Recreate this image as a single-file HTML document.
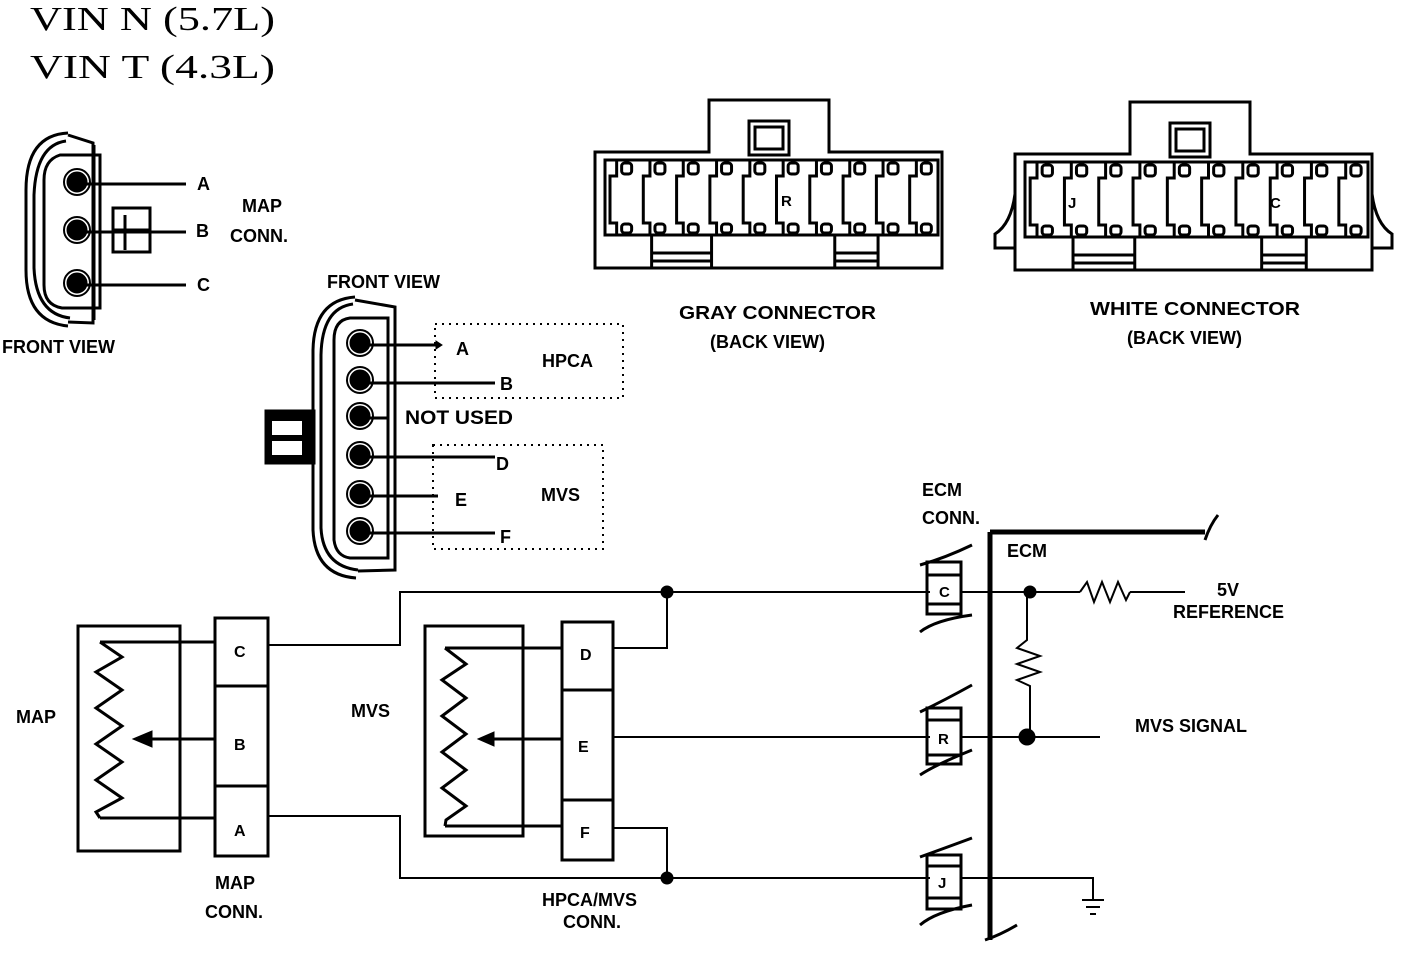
<!DOCTYPE html>
<html><head><meta charset="utf-8"><style>
body{margin:0;background:#fff}
svg{display:block}
text{font-family:"Liberation Sans",sans-serif;font-weight:bold;fill:#000}
.s{font-family:"Liberation Serif",serif;font-weight:normal;font-size:34px}
</style></head><body>
<svg id="sv" width="1408" height="954" viewBox="0 0 1408 954" xmlns="http://www.w3.org/2000/svg" stroke="#000" fill="none">
<text class="s" x="30" y="30" stroke="none" textLength="245" lengthAdjust="spacingAndGlyphs">VIN  N  (5.7L)</text>
<text class="s" x="30" y="78" stroke="none" textLength="245" lengthAdjust="spacingAndGlyphs">VIN  T  (4.3L)</text>

<g stroke-width="3">
<path d="M68 133 Q26 135 26 190 L26 270 Q26 322 68 326"/>
<path d="M66 141 Q36 145 34 195 L34 268 Q36 314 70 318"/>
<path d="M68 135 L93 143 L93 323 L68 322"/>
<path d="M100 155 L60 155 Q44 160 44 180 L44 285 Q44 305 62 308 L100 308 Z"/>
<path d="M93 143 L93 321 M94 145 L94 320"/>
<rect x="113" y="208" width="37" height="44"/>
<line x1="113" y1="230" x2="150" y2="230"/>
<line x1="125" y1="215" x2="125" y2="250"/>
</g>
<g fill="#000">
<circle cx="77" cy="182" r="10"/><circle cx="77" cy="230" r="10"/><circle cx="77" cy="283" r="10"/>
</g>
<g fill="none" stroke-width="2"><circle cx="77" cy="182" r="13"/><circle cx="77" cy="230" r="13"/><circle cx="77" cy="283" r="13"/></g>
<g stroke-width="3"><line x1="85" y1="184" x2="186" y2="184"/><line x1="85" y1="232" x2="186" y2="232"/><line x1="85" y1="285" x2="186" y2="285"/></g>
<g stroke="none" font-size="18">
<text x="197" y="190">A</text><text x="196" y="237">B</text><text x="197" y="291">C</text>
<text x="242" y="212">MAP</text><text x="230" y="242">CONN.</text>
<text x="2" y="353">FRONT VIEW</text>
<text x="327" y="288">FRONT VIEW</text>
</g>

<g stroke-width="3">
<path d="M355 297 Q314 300 313 350 L313 530 Q315 575 356 578"/>
<path d="M353 304 Q322 308 321 355 L321 528 Q323 566 358 570"/>
<path d="M355 300 L395 307 L395 570 L358 571"/>
<path d="M388 318 L350 318 Q334 320 334 340 L334 540 Q336 556 350 558 L388 558 Z"/>
</g>
<rect x="265" y="410" width="50" height="54" fill="#000"/>
<rect x="272" y="421" width="30" height="14" fill="#fff" stroke="none"/>
<rect x="272" y="441" width="30" height="14" fill="#fff" stroke="none"/>
<g fill="#000">
<circle cx="360" cy="343" r="10"/><circle cx="360" cy="380" r="10"/><circle cx="360" cy="416" r="10"/>
<circle cx="360" cy="455" r="10"/><circle cx="360" cy="494" r="10"/><circle cx="360" cy="531" r="10"/>
</g>
<g stroke-width="2"><circle cx="360" cy="343" r="13"/><circle cx="360" cy="380" r="13"/><circle cx="360" cy="416" r="13"/>
<circle cx="360" cy="455" r="13"/><circle cx="360" cy="494" r="13"/><circle cx="360" cy="531" r="13"/></g>
<g stroke-width="3">
<line x1="368" y1="345" x2="436" y2="345"/><line x1="368" y1="383" x2="495" y2="383"/>
<line x1="368" y1="418" x2="388" y2="418"/>
<line x1="368" y1="457" x2="495" y2="457"/><line x1="368" y1="496" x2="438" y2="496"/><line x1="368" y1="533" x2="495" y2="533"/>
</g>
<path d="M436 341 L442 345 L436 349 Z" fill="#000"/>
<g stroke-width="2" stroke-dasharray="2 5">
<rect x="435" y="324" width="188" height="74"/>
<rect x="433" y="445" width="170" height="104"/>
</g>
<g stroke="none" font-size="18">
<text x="456" y="355">A</text><text x="500" y="390">B</text><text x="542" y="367">HPCA</text>
<text x="405" y="424" font-weight="normal" font-size="19" textLength="108" lengthAdjust="spacingAndGlyphs">NOT USED</text>
<text x="496" y="470">D</text><text x="455" y="506">E</text><text x="541" y="501">MVS</text><text x="500" y="543">F</text>
</g>

<g id="conns" stroke-width="3"></g>
<g stroke="none" font-size="18">
<text x="781" y="206" font-size="15">R</text>
<text x="1068" y="208" font-size="15">J</text>
<text x="1270" y="208" font-size="15">C</text>
<text x="679" y="319" textLength="197" lengthAdjust="spacingAndGlyphs">GRAY CONNECTOR</text><text x="710" y="348">(BACK VIEW)</text>
<text x="1090" y="315" textLength="210" lengthAdjust="spacingAndGlyphs">WHITE CONNECTOR</text><text x="1127" y="344">(BACK VIEW)</text>
</g>

<g stroke-width="3">
<rect x="78" y="626" width="102" height="225"/>
<rect x="215" y="618" width="53" height="68"/><rect x="215" y="686" width="53" height="100"/><rect x="215" y="786" width="53" height="70"/>
<path d="M100 642 L215 642 M100 818 L215 818"/>
<path d="M100 642 L122 657 L96 672 L122 690 L96 708 L122 726 L96 744 L122 762 L96 780 L122 798 L96 812 L100 818"/>
<line x1="215" y1="739" x2="150" y2="739"/>
<rect x="425" y="626" width="98" height="210"/>
<rect x="562" y="622" width="51" height="68"/><rect x="562" y="690" width="51" height="110"/><rect x="562" y="800" width="51" height="60"/>
<path d="M445 648 L562 648 M445 826 L562 826"/>
<path d="M445 648 L466 664 L442 680 L466 698 L442 716 L466 734 L442 752 L466 770 L442 788 L466 806 L446 820 L445 826"/>
<line x1="562" y1="739" x2="492" y2="739"/>
</g>
<path d="M133 739 L152 731 L152 747 Z" fill="#000"/>
<path d="M478 739 L494 732 L494 746 Z" fill="#000"/>
<g stroke-width="2">
<path d="M268 645 L400 645 L400 592 L930 592"/>
<path d="M613 648 L667 648 L667 592"/>
<path d="M613 737 L930 737"/>
<path d="M613 828 L667 828 L667 878"/>
<path d="M268 816 L400 816 L400 878 L930 878"/>
<path d="M962 592 L1080 592 M1130 592 L1185 592"/>
<path d="M1080 592 L1087 582 L1094 602 L1102 582 L1110 602 L1118 582 L1126 600 L1130 592"/>
<path d="M1027 592 L1027 640 L1017 648 L1040 656 L1017 664 L1040 672 L1017 680 L1030 686 L1030 737"/>
<path d="M962 737 L1100 737"/>
<path d="M962 878 L1093 878 L1093 900"/>
<path d="M1082 900 L1104 900 M1086 907 L1100 907 M1090 914 L1096 914"/>
</g>
<g fill="#000"><circle cx="667" cy="592" r="6"/><circle cx="667" cy="878" r="6"/><circle cx="1030" cy="592" r="6"/><circle cx="1027" cy="737" r="8"/></g>
<g stroke-width="5"><path d="M990 532 L990 940 M990 532 L1205 532"/></g>
<g stroke-width="3">
<path d="M1205 540 Q1210 525 1218 515"/>
<path d="M985 940 Q1000 935 1017 925"/>
<rect x="927" y="562" width="34" height="52"/><line x1="927" y1="575" x2="961" y2="575"/><line x1="927" y1="604" x2="961" y2="604"/>
<path d="M920 565 Q945 558 972 545 M920 632 Q935 620 972 615"/>
<rect x="927" y="708" width="34" height="56"/><line x1="927" y1="720" x2="961" y2="720"/><line x1="927" y1="755" x2="961" y2="755"/>
<path d="M920 712 Q945 700 972 685 M920 775 Q935 765 972 750"/>
<rect x="927" y="855" width="34" height="54"/><line x1="927" y1="866" x2="961" y2="866"/><line x1="927" y1="898" x2="961" y2="898"/>
<path d="M920 857 Q945 848 972 838 M920 925 Q935 912 972 905"/>
</g>
<g stroke="none" font-size="18">
<text x="939" y="597" font-size="15">C</text><text x="938" y="744" font-size="15">R</text><text x="938" y="888" font-size="15">J</text>
<text x="922" y="496">ECM</text><text x="922" y="524">CONN.</text>
<text x="1007" y="557">ECM</text>
<text x="1217" y="596">5V</text><text x="1173" y="618">REFERENCE</text>
<text x="1135" y="732">MVS   SIGNAL</text>
<text x="16" y="723">MAP</text><text x="351" y="717">MVS</text>
<text x="234" y="750" font-size="16">B</text><text x="234" y="657" font-size="16">C</text><text x="234" y="836" font-size="16">A</text>
<text x="580" y="660" font-size="16">D</text><text x="578" y="752" font-size="16">E</text><text x="580" y="838" font-size="16">F</text>
<text x="215" y="889">MAP</text><text x="205" y="918">CONN.</text>
<text x="542" y="906">HPCA/MVS</text><text x="563" y="928">CONN.</text>
</g>
</svg>
<script>
(function(){
var g=document.getElementById('conns'),h='';
function conn(x0,x1,y0,bumpL,bumpR,white){
 var top=y0+52,bot=y0+168;
 h+='<path d="M'+x0+' '+top+' L'+bumpL+' '+top+' L'+bumpL+' '+y0+' L'+bumpR+' '+y0+' L'+bumpR+' '+top+' L'+x1+' '+top+' L'+x1+' '+bot+' L'+x0+' '+bot+' Z"/>';
 var kx=(bumpL+bumpR)/2;
 h+='<rect x="'+(kx-20)+'" y="'+(y0+21)+'" width="40" height="34"/><rect x="'+(kx-14)+'" y="'+(y0+27)+'" width="28" height="22"/>';
 var ix0=x0+10,ix1=x1-4,it=top+8,ib=bot-33;
 h+='<rect x="'+ix0+'" y="'+it+'" width="'+(ix1-ix0)+'" height="'+(ib-it)+'"/>';
 var n=10,w=(ix1-ix0)/n;
 for(var i=0;i<n;i++){var x=ix0+i*w;
  h+='<path d="M'+(x+w*0.35)+' '+it+' L'+(x+w*0.35)+' '+(it+16)+' L'+(x+w*0.15)+' '+(it+16)+' L'+(x+w*0.15)+' '+(ib-12)+' L'+(x+w*0.35)+' '+(ib-12)+' L'+(x+w*0.35)+' '+ib+'"/>';
  h+='<rect x="'+(x+w*0.5)+'" y="'+(it+3)+'" width="'+(w*0.3)+'" height="11" rx="3"/>';
  h+='<rect x="'+(x+w*0.5)+'" y="'+(ib-11)+'" width="'+(w*0.3)+'" height="9" rx="3"/>';
 }
 var bx=[ix0+w*1.4,ix0+w*3.2,ix0+w*6.9,ix0+w*8.2];
 bx.forEach(function(b){h+='<line x1="'+b+'" y1="'+ib+'" x2="'+b+'" y2="'+bot+'"/>';});
 h+='<path d="M'+bx[0]+' '+(ib+18)+' L'+bx[1]+' '+(ib+18)+' M'+bx[0]+' '+(ib+26)+' L'+bx[1]+' '+(ib+26)+' M'+bx[2]+' '+(ib+18)+' L'+bx[3]+' '+(ib+18)+' M'+bx[2]+' '+(ib+26)+' L'+bx[3]+' '+(ib+26)+'"/>';
 if(white){h+='<path d="M'+x0+' '+(top+40)+' Q'+(x0-4)+' '+(top+70)+' '+(x0-20)+' '+(top+80)+' L'+(x0-20)+' '+(bot-22)+' L'+x0+' '+(bot-22)+'"/>';
  h+='<path d="M'+x1+' '+(top+40)+' Q'+(x1+4)+' '+(top+70)+' '+(x1+20)+' '+(top+80)+' L'+(x1+20)+' '+(bot-22)+' L'+x1+' '+(bot-22)+'"/>';}
}
conn(595,942,100,709,829,false);
conn(1015,1372,102,1130,1250,true);
g.innerHTML=h;
})();
</script>
</body></html>
